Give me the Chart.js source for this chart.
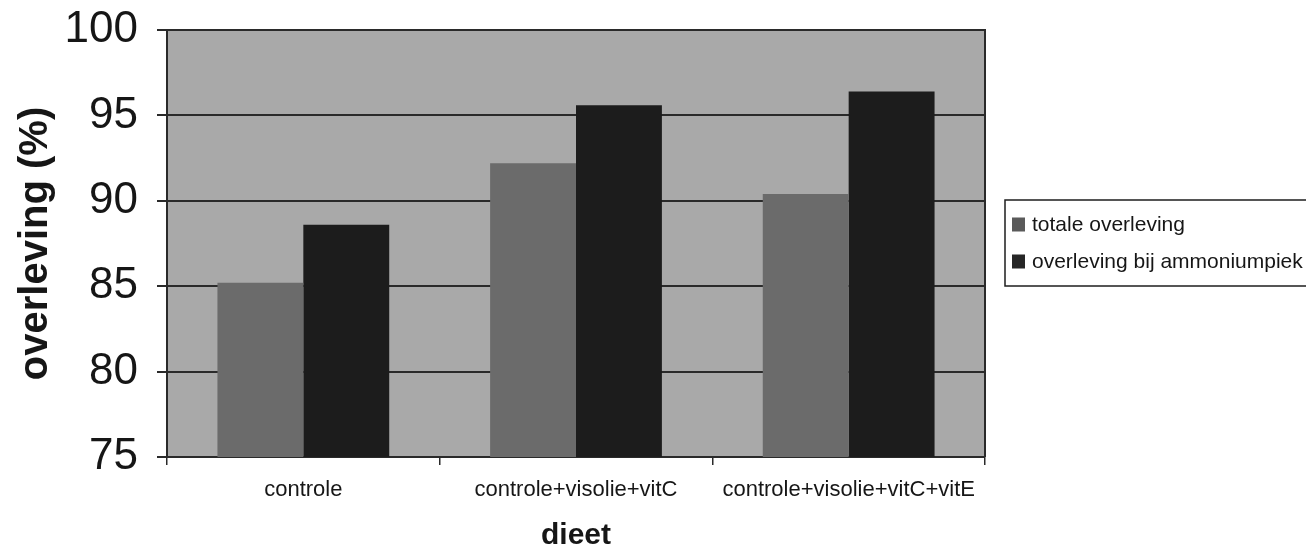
<!DOCTYPE html>
<html>
<head>
<meta charset="utf-8">
<script src="https://cdn.jsdelivr.net/npm/chart.js@4"></script>
<style>
  html, body { margin: 0; padding: 0; background: #ffffff; }
  #wrap { width: 1306px; height: 560px; position: relative; }
</style>
</head>
<body>
<div id="wrap"><canvas id="c" width="1306" height="560"></canvas></div>
<script>
// Diets compared
const categories = ['controle', 'controle+visolie+vitC', 'controle+visolie+vitC+vitE'];
// Survival (%) per diet
const totaleOverleving = [85.2, 92.2, 90.4];
const overlevingAmmoniumpiek = [88.6, 95.6, 96.4];
const seriesNames = ['totale overleving', 'overleving bij ammoniumpiek'];
// Value axis ticks
const yTicks = [75, 80, 85, 90, 95, 100];

const FONT = "'Liberation Sans', Arial, sans-serif";
const INK = '#161616';

// Grey plot background and a frame around the plot area
const plotFrame = {
  id: 'plotFrame',
  beforeDraw(chart) {
    const { ctx, chartArea: a } = chart;
    ctx.save();
    ctx.fillStyle = '#a9a9a9';
    ctx.fillRect(a.left, a.top, a.right - a.left, a.bottom - a.top);
    ctx.restore();
  },
  afterDatasetsDraw(chart) {
    const { ctx, chartArea: a } = chart;
    ctx.save();
    ctx.strokeStyle = '#2a2a2a';
    ctx.lineWidth = 2;
    ctx.beginPath();
    ctx.moveTo(a.left, a.top);
    ctx.lineTo(a.right, a.top);
    ctx.lineTo(a.right, a.bottom);
    ctx.stroke();
    ctx.restore();
  }
};

// Boxed legend to the right of the plot
const boxedLegend = {
  id: 'boxedLegend',
  afterDraw(chart) {
    const { ctx, chartArea: a } = chart;
    const x0 = a.right + 20;
    const yMid = 243;
    const rowGap = 37;
    const h = 86;
    ctx.save();
    ctx.strokeStyle = '#1e1e1e';
    ctx.lineWidth = 1.5;
    ctx.strokeRect(x0, yMid - h / 2, chart.width - x0 + 10, h);
    ctx.font = '21px ' + FONT;
    ctx.textBaseline = 'middle';
    ctx.textAlign = 'left';
    chart.data.datasets.forEach((ds, i) => {
      const y = yMid - rowGap / 2 + i * rowGap;
      ctx.fillStyle = ds.legendColor;
      ctx.fillRect(x0 + 7, y - 7, 13, 14);
      ctx.fillStyle = INK;
      ctx.fillText(ds.label, x0 + 27, y + 1);
    });
    ctx.restore();
  }
};

new Chart(document.getElementById('c'), {
  type: 'bar',
  data: {
    labels: categories,
    datasets: [
      { label: seriesNames[0], data: totaleOverleving, backgroundColor: '#6b6b6b', legendColor: '#5a5a5a',
        borderWidth: 0, barPercentage: 1.0, categoryPercentage: 0.63 },
      { label: seriesNames[1], data: overlevingAmmoniumpiek, backgroundColor: '#1c1c1c', legendColor: '#262626',
        borderWidth: 0, barPercentage: 1.0, categoryPercentage: 0.63 }
    ]
  },
  options: {
    responsive: false,
    animation: false,
    devicePixelRatio: 1,
    layout: { padding: { top: 30, right: 321, bottom: 0, left: 0 } },
    plugins: {
      legend: { display: false },
      tooltip: { enabled: false }
    },
    scales: {
      x: {
        offset: true,
        grid: { display: true, offset: true, drawOnChartArea: false, drawTicks: true, tickLength: 8,
                color: '#2a2a2a', lineWidth: 1.5 },
        border: { display: true, color: '#2a2a2a', width: 2 },
        ticks: { color: INK, font: { family: FONT, size: 22 }, padding: 12, maxRotation: 0, autoSkip: false },
        title: { display: true, text: 'dieet', color: INK,
                 font: { family: FONT, size: 30, weight: 'bold' }, padding: { top: 0, bottom: 6 } },
        afterFit(scale) { scale.height = 103; scale.paddingLeft = 0; scale.paddingRight = 0; }
      },
      y: {
        min: 75,
        max: 100,
        afterBuildTicks(scale) { scale.ticks = yTicks.map(v => ({ value: v })); },
        grid: { color: '#2a2a2a', lineWidth: 2, tickLength: 10, drawTicks: true },
        border: { display: true, color: '#2a2a2a', width: 2 },
        ticks: { color: INK, font: { family: FONT, size: 44 }, padding: 19 },
        title: { display: true, text: 'overleving (%)', color: INK,
                 font: { family: FONT, size: 40, weight: 'bold' }, padding: { top: 12, bottom: 0 } },
        afterFit(scale) { scale.width = 167; scale.paddingTop = 0; scale.paddingBottom = 0; }
      }
    }
  },
  plugins: [plotFrame, boxedLegend]
});
</script>
</body>
</html>
